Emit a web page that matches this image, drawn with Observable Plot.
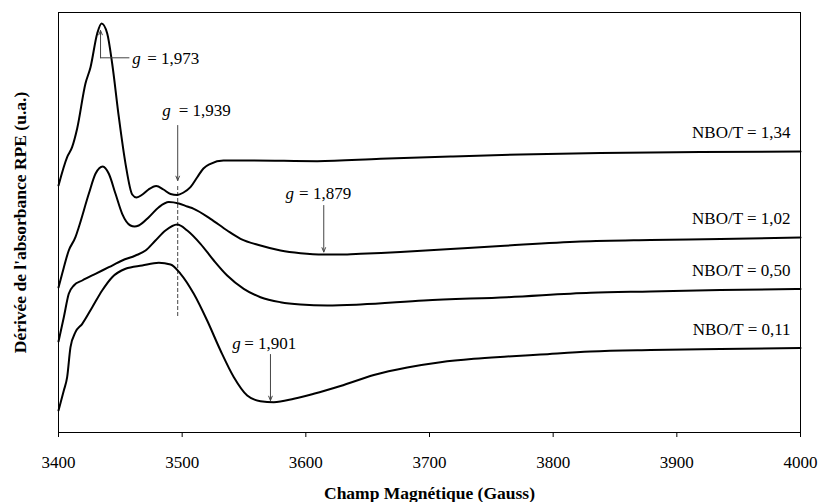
<!DOCTYPE html>
<html>
<head>
<meta charset="utf-8">
<script src="https://cdn.jsdelivr.net/npm/d3@7"></script>
<script src="https://cdn.jsdelivr.net/npm/@observablehq/plot@0.6"></script>
<style>
  html, body { margin: 0; padding: 0; background: #fff; }
  svg text { font-family: "Liberation Serif", "Times New Roman", serif; }
</style>
</head>
<body>
<div id="chart"></div>
<script>
// Magnetic field (Gauss) and EPR derivative signal (arbitrary units) per series
const field134 = [3400, 3407, 3411, 3415.1, 3421.8, 3425.9, 3431.3, 3434.8, 3439.4, 3443.4, 3448.8, 3454.2, 3459.6, 3463.1, 3467.9, 3472.8, 3479, 3484.9, 3490.6, 3496, 3501.1, 3506.7, 3512.2, 3517.2, 3522.9, 3533.4, 3555.3, 3609.2, 3660.4, 3717, 3773.6, 3838.3, 3919.1, 4000];
const signal134 = [247, 275.3, 285.3, 304, 349, 365.3, 399, 409, 399, 369, 315.3, 268.7, 238, 235, 238, 243, 246.5, 243, 238.5, 237.5, 240, 245.3, 255.3, 264, 268.7, 272, 272, 271.3, 273.7, 276, 278, 279.5, 280.5, 281];

const field102 = [3400, 3403, 3408.3, 3413.7, 3416.4, 3424.5, 3429.9, 3435.8, 3440.7, 3446.1, 3451.5, 3458.2, 3461.5, 3464.9, 3473, 3481.1, 3489.2, 3497.3, 3504.1, 3509.4, 3522.9, 3536.4, 3547.2, 3563.3, 3579.5, 3595.7, 3614.5, 3633.5, 3644.2, 3676.5, 3717, 3757.4, 3822.1, 3878.7, 3935.3, 4000];
const signal102 = [145, 159, 182, 195.3, 205.3, 238.7, 258.7, 266, 258.7, 238.7, 218.7, 207, 206, 207, 215.3, 225.3, 230.5, 229, 226, 223.7, 213.7, 202, 193.7, 187, 182, 179.3, 178, 178, 178.7, 180.5, 183.5, 186.5, 191, 192.5, 193.5, 195];

const field050 = [3400, 3404.3, 3408.3, 3412.4, 3419.2, 3429.9, 3440.7, 3451.5, 3462.3, 3470.4, 3478.4, 3486.5, 3496, 3504.1, 3514.8, 3525.6, 3536.4, 3549.8, 3563.3, 3579.5, 3595.7, 3617.3, 3644.2, 3695.4, 3762.8, 3830.2, 3878.7, 3935.3, 4000];
const signal050 = [91, 115.3, 138.7, 147, 152, 158.7, 165.3, 172, 177, 182, 192, 202, 208, 202, 188.7, 172, 157, 143.7, 135.3, 130.3, 128, 127, 128, 132, 135.3, 139.7, 141, 142.5, 143.5];

const field011 = [3400, 3404.3, 3407, 3409.7, 3413.7, 3419.2, 3427.3, 3435.3, 3443.4, 3454.2, 3467.7, 3481.1, 3490.6, 3498.7, 3509.4, 3520.2, 3531, 3541.8, 3552.6, 3563.3, 3574.1, 3590.3, 3606.4, 3628, 3655, 3682, 3708.9, 3735.8, 3762.8, 3789.8, 3830.2, 3878.7, 3935.3, 4000];
const signal011 = [22, 42, 55.3, 85.3, 100.3, 108.7, 125.3, 142, 155.3, 163.7, 167, 169.7, 168, 158.7, 138.7, 112, 82, 55.3, 37, 31.3, 30.3, 33.7, 38.7, 46.5, 57.5, 65, 70.3, 73.7, 76, 78, 81, 82.5, 83.5, 84.5];

const seriesNames = ["NBO/T = 1,34", "NBO/T = 1,02", "NBO/T = 0,50", "NBO/T = 0,11"];
const seriesFields = [field134, field102, field050, field011];
const seriesSignals = [signal134, signal102, signal050, signal011];

const xTicks = [3400, 3500, 3600, 3700, 3800, 3900, 4000];

// Series labels (right end), positions in data units
const seriesLabelField = [3992, 3992, 3992, 3992];
const seriesLabelSignal = [299.5, 214, 161.7, 102.5];

// g-value annotations
const gValues = ["1,973", "1,939", "1,879", "1,901"];
const gTextField = [3459.6, 3483.9, 3583.6, 3540.5];
const gTextSignal = [374, 321.5, 239, 88.7];
const gTextGap = [15, 16.5, 13.5, 12];
const gArrowField = [3434, 3496.4, 3614.5, 3571.4];
const gArrowFrom = [374.7, 307, 227, 78];
const gArrowTo = [402, 252, 180.5, 32];
const g1973Hook = [3457, 374.7];     // end of the horizontal leader of g = 1,973
const dashedField = 3496.4;
const dashedFrom = 116, dashedTo = 247;

const lineRows = seriesNames.flatMap((name, k) =>
  seriesFields[k].map((f, i) => ({series: name, field: f, signal: seriesSignals[k][i]})));

const labelRows = seriesNames.map((name, k) => ({text: name, x: seriesLabelField[k], y: seriesLabelSignal[k]}));
const gRows = gValues.map((v, k) => ({
  value: "= " + v, x: gTextField[k], y: gTextSignal[k], gap: gTextGap[k],
  ax: gArrowField[k], a1: gArrowFrom[k], a2: gArrowTo[k]
}));

const serif = "Liberation Serif";

const chart = Plot.plot({
  width: 818,
  height: 502,
  marginLeft: 58,
  marginRight: 18,
  marginTop: 12,
  marginBottom: 70,
  style: {fontFamily: serif, fontSize: "17px", color: "black", background: "white"},
  x: {domain: [3400, 4000]},
  y: {domain: [0, 420], axis: null},
  marks: [
    Plot.frame({stroke: "black", strokeWidth: 1}),
    Plot.axisX({ticks: xTicks, tickFormat: d => String(d), tickSize: 5, tickPadding: 18, fontSize: 17, fontFamily: serif, label: null, stroke: "black"}),
    Plot.text(["Champ Magnétique (Gauss)"], {frameAnchor: "bottom", dy: 61, lineAnchor: "middle", textAnchor: "middle", fontWeight: "bold", fontSize: 17.5, fontFamily: serif, fill: "black"}),
    Plot.text(["Dérivée de l'absorbance RPE (u.a.)"], {frameAnchor: "left", dx: -38, rotate: -90, textAnchor: "middle", lineAnchor: "middle", fontWeight: "bold", fontSize: 17.5, fontFamily: serif, fill: "black"}),
    Plot.ruleX([dashedField], {y1: dashedFrom, y2: dashedTo, stroke: "#444", strokeWidth: 1, strokeDasharray: "4,2"}),
    Plot.line(lineRows, {x: "field", y: "signal", z: "series", stroke: "black", strokeWidth: 2, curve: "monotone-x"}),
    Plot.line([[g1973Hook[0], g1973Hook[1]], [gArrowField[0], gArrowFrom[0]]], {x: d => d[0], y: d => d[1], stroke: "#444", strokeWidth: 1}),
    Plot.arrow(gRows, {x1: "ax", y1: "a1", x2: "ax", y2: "a2", stroke: "#444", strokeWidth: 1, headLength: 7, headAngle: 45}),
    Plot.text(gRows, {x: "x", y: "y", text: () => "g", fontStyle: "italic", textAnchor: "start", fontSize: 17, fontFamily: serif, fill: "black"}),
    Plot.text(gRows, {x: "x", y: "y", text: "value", textAnchor: "start", fontSize: 17, fontFamily: serif, fill: "black",
      render: (index, scales, values, dims, context, next) => {
        const g = next(index, scales, values, dims, context);
        d3.select(g).selectAll("text").attr("dx", (_, j) => gRows[index[j]].gap);
        return g;
      }}),
    Plot.text(labelRows, {x: "x", y: "y", text: "text", textAnchor: "end", fontSize: 17, fontFamily: serif, fill: "black"})
  ]
});
document.getElementById("chart").appendChild(chart);
</script>
</body>
</html>
